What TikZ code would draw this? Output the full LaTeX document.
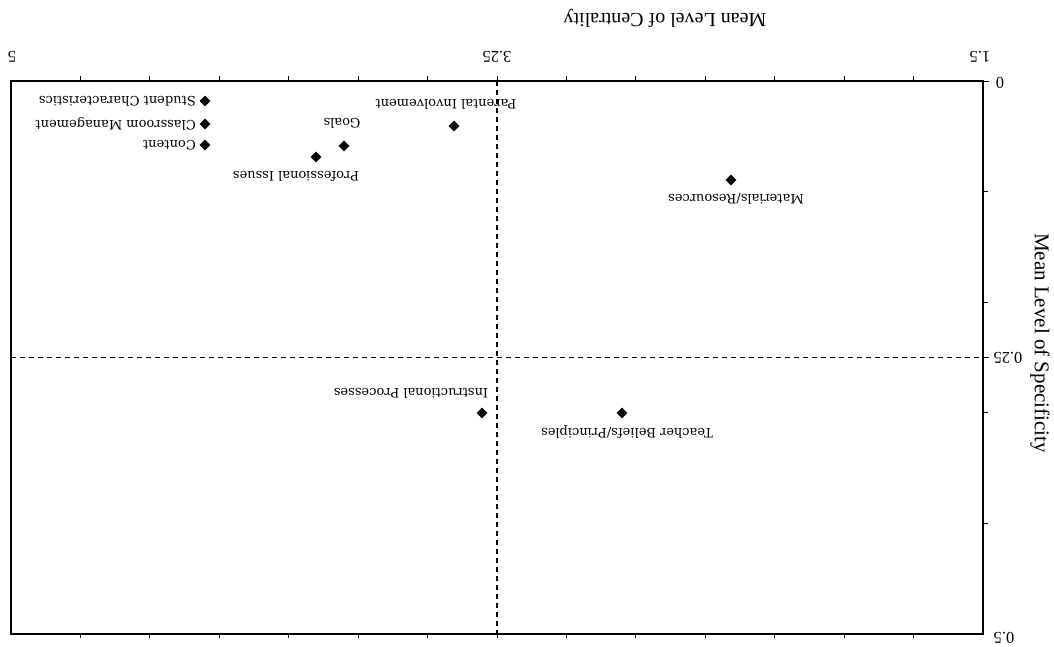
\documentclass[tikz,border=0pt]{standalone}
\usepackage{fontspec}
\setmainfont{Liberation Serif}
\newfontfamily\labfont{DejaVu Serif}
\usetikzlibrary{shapes.geometric}
\begin{document}
\begin{tikzpicture}[x=1pt,y=-1pt,
  pt/.style={diamond,fill=black,draw=black,inner sep=0pt,minimum size=10.5pt},
  lab/.style={rotate=180,inner sep=0pt,font=\labfont\fontsize{13}{15}\selectfont},
  ticklab/.style={rotate=180,inner sep=0pt,font=\fontsize{16.5}{18}\selectfont},
  axtitle/.style={inner sep=0pt,font=\fontsize{20}{22}\selectfont},
  frame/.style={line width=1.4pt},
  guide/.style={line width=1.1pt,dash pattern=on 5pt off 4pt},
  tick/.style={line width=0.9pt}]
\useasboundingbox (0,0) rectangle (1054,646);
% frame corners
\coordinate (TL) at (11,81);
\coordinate (TR) at (983,81);
\coordinate (BL) at (11,634);
\coordinate (BR) at (983,634);
\draw[frame] (TL) -- (TR) -- (BR) -- (BL) -- cycle;
% ticks on top and bottom axes
\foreach \i in {1,...,13} {\draw[tick] (11+\i*69.43,81) -- (11+\i*69.43,76);}
\foreach \i in {1,...,13} {\draw[tick] (11+\i*69.43,634) -- (11+\i*69.43,638);}
% ticks on right axis
\foreach \i in {1,...,4} {\draw[tick] (983,81+\i*110.6) -- (988,81+\i*110.6);}
\draw[tick] (983,357.5) -- (989,357.5);
\draw[tick] (983,81) -- (989,81);
% guide lines
\coordinate (VT) at (497,81);
\coordinate (VB) at (497,634);
\coordinate (HL) at (11,357.5);
\coordinate (HR) at (983,357.5);
\draw[guide] (VT) -- (VB);
\draw[guide] (HL) -- (HR);
% tick labels
\node[ticklab] (x5) at (12,57) {5};
\node[ticklab] (x325) at (497,57) {3.25};
\node[ticklab] (x15) at (980,57) {1.5};
\node[ticklab] (y0) at (1000,83) {0};
\node[ticklab] (y025) at (1008,358) {0.25};
\node[ticklab] (y05) at (1004,638) {0.5};
% axis titles
\node[axtitle,rotate=180] (xt) at (665,18) {Mean Level of Centrality};
\node[axtitle,rotate=-90,font=\fontsize{21}{23}\selectfont] (yt) at (1040,343) {Mean Level of Specificity};
% data points
\node[pt] (sc) at (205,101) {};
\node[pt] (cm) at (205,124) {};
\node[pt] (co) at (205,145) {};
\node[pt] (go) at (344,146) {};
\node[pt] (pi) at (316,157) {};
\node[pt] (pa) at (454,126) {};
\node[pt] (mr) at (731,180) {};
\node[pt] (tb) at (622,413) {};
\node[pt] (ip) at (482,413) {};
% labels
\node[lab,anchor=west] (scl) at (196,101) {Student Characteristics};
\node[lab,anchor=west] (cml) at (196,124) {Classroom Management};
\node[lab,anchor=west] (col) at (196,145) {Content};
\node[lab] (gol) at (342,123) {Goals};
\node[lab] (pil) at (296,176) {Professional Issues};
\node[lab] (pal) at (446,104) {Parental Involvement};
\node[lab] (mrl) at (736,199) {Materials/Resources};
\node[lab] (tbl) at (627,432) {Teacher Beliefs/Principles};
\node[lab] (ipl) at (411,393) {Instructional Processes};
\end{tikzpicture}
\end{document}
